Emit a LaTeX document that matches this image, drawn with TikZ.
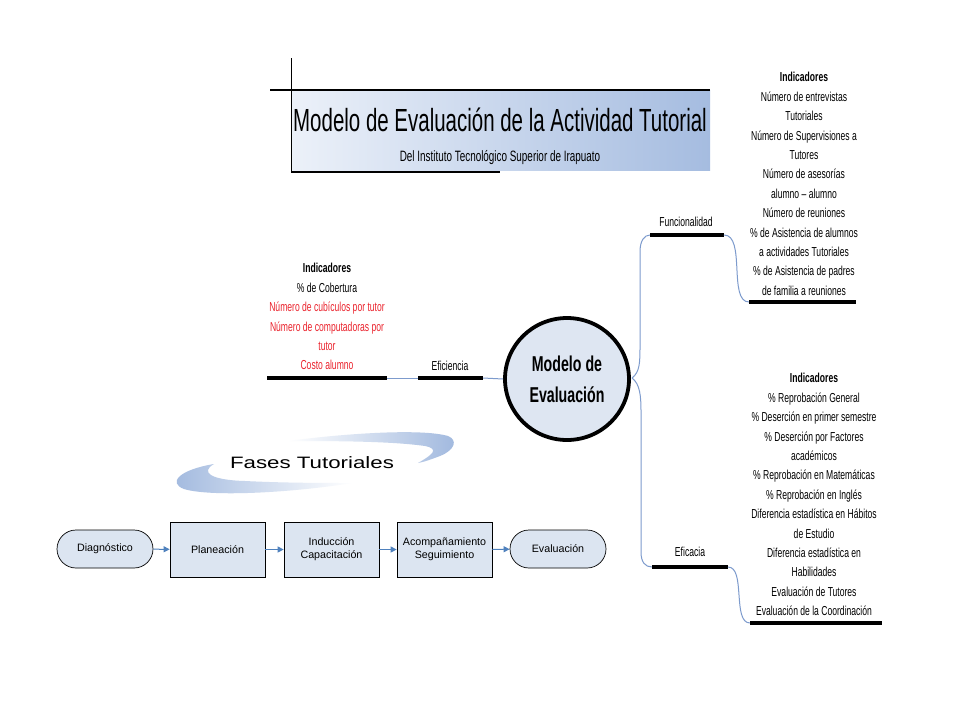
\documentclass[tikz,border=0pt]{standalone}
\usepackage{fontspec}
\setmainfont{Liberation Sans}
\newfontfamily\nar[FakeStretch=0.66]{Liberation Sans}
\newfontfamily\ttlfont[FakeStretch=0.64]{Liberation Sans}
\newfontfamily\widefont[FakeStretch=1.35]{Liberation Sans}
\usetikzlibrary{arrows.meta,shapes.geometric}
\definecolor{linkblue}{RGB}{125,155,205}
\definecolor{arrowblue}{RGB}{79,129,189}
\definecolor{boxfill}{RGB}{220,229,241}
\definecolor{ellfill}{RGB}{222,230,242}
\definecolor{redtxt}{RGB}{235,35,45}
\definecolor{titleL}{RGB}{236,241,249}
\definecolor{titleR}{RGB}{165,188,224}
\definecolor{swoosh}{RGB}{160,184,222}
\tikzset{
  bar/.style={line width=4pt,black},
  link/.style={linkblue,line width=1pt},
  lbl/.style={font=\nar\fontsize{13}{15}\selectfont,inner sep=0pt},
  indic/.style={font=\nar\fontsize{13}{19.4}\selectfont,align=center,inner sep=0pt,anchor=north},
  flowtxt/.style={font=\fontsize{10.7}{13}\selectfont,align=center},
  flowbox/.style={draw=black,line width=0.7pt,fill=boxfill,minimum width=95pt,minimum height=55pt,flowtxt},
  flowend/.style={draw=black,line width=0.7pt,fill=boxfill,minimum width=96pt,minimum height=38pt,rounded corners=19pt,flowtxt},
  flowarr/.style={arrowblue,line width=1pt,-{Triangle[length=6pt,width=6pt]}}
}
\begin{document}
\begin{tikzpicture}[x=1pt,y=-1pt]
\useasboundingbox[fill=white] (0,0) rectangle (960,720);

% ---------- Title block ----------
\shade[left color=titleL,right color=titleR] (291,90) rectangle (710,170);
\draw[line width=1.3pt] (270,90) -- (710,90);
\draw[line width=0.8pt] (291,58) -- (291,172);
\draw[line width=1.3pt] (291,172) -- (500,172);
\node[inner sep=0pt,anchor=base,font=\ttlfont\fontsize{32}{32}\selectfont] (title) at (500,131) {Modelo de Evaluación de la Actividad Tutorial};
\node[inner sep=0pt,anchor=base,font=\nar\fontsize{15}{16}\selectfont] (subtitle) at (500,161) {Del Instituto Tecnológico Superior de Irapuato};

% ---------- Central ellipse ----------
\node[ellipse,draw=black,line width=3.8pt,fill=ellfill,minimum width=124pt,minimum height=122pt,
      align=center,font=\nar\bfseries\fontsize{21.5}{31}\selectfont] (model) at (567,379) {Modelo de\\Evaluación};

% ---------- Eficiencia branch ----------
\coordinate (efiR) at (483,378);
\coordinate (efiL) at (418,378);
\coordinate (indLR) at (387,378);
\coordinate (indLL) at (267,378);
\draw[link] (model.west) -- (efiR);
\draw[bar] (efiL) -- (efiR);
\draw[link] (efiL) -- (indLR);
\draw[bar] (indLL) -- (indLR);
\node[lbl] (eficiencia) at (450,366) {Eficiencia};
\node[indic] (indL) at (327,263.2) {\bfseries Indicadores\\
\% de Cobertura\\
\textcolor{redtxt}{Número de cubículos por tutor}\\
\textcolor{redtxt}{Número de computadoras por}\\
\textcolor{redtxt}{tutor}\\
\textcolor{redtxt}{Costo alumno}};

% ---------- Funcionalidad branch ----------
\coordinate (fork) at (632,378);
\coordinate (funL) at (650,235);
\coordinate (funR) at (724,235);
\coordinate (ind1L) at (749,302);
\coordinate (ind1R) at (856,302);
\draw[link] (fork) .. controls (640,372) and (640,362) .. (640,345) -- (640,252) .. controls (640,241) and (644,235) .. (funL);
\draw[bar] (funL) -- (funR);
\draw[link] (funR) .. controls (746,235) and (728,302) .. (ind1L);
\draw[bar] (ind1L) -- (ind1R);
\node[lbl] (funcionalidad) at (686,222) {Funcionalidad};
\node[indic] (ind1) at (804,72.2) {\bfseries Indicadores\\
Número de entrevistas\\
Tutoriales\\
Número de Supervisiones a\\
Tutores\\
Número de asesorías\\
alumno – alumno\\
Número de reuniones\\
\% de Asistencia de alumnos\\
a actividades Tutoriales\\
\% de Asistencia de padres\\
de familia a reuniones};

% ---------- Eficacia branch ----------
\coordinate (ficL) at (652,567);
\coordinate (ficR) at (728,567);
\coordinate (ind2L) at (750,623);
\coordinate (ind2R) at (882,623);
\draw[link] (fork) .. controls (640,384) and (641,396) .. (641,412) -- (641,552) .. controls (641,562) and (645,567) .. (ficL);
\draw[bar] (ficL) -- (ficR);
\draw[link] (ficR) .. controls (746,567) and (732,623) .. (ind2L);
\draw[bar] (ind2L) -- (ind2R);
\node[lbl] (eficacia) at (690,552) {Eficacia};
\node[indic] (ind2) at (814,373.2) {\bfseries Indicadores\\
\% Reprobación General\\
\% Deserción en primer semestre\\
\% Deserción por Factores\\
académicos\\
\% Reprobación en Matemáticas\\
\% Reprobación en Inglés\\
Diferencia estadística en Hábitos\\
de Estudio\\
Diferencia estadística en\\
Habilidades\\
Evaluación de Tutores\\
Evaluación de la Coordinación};

% ---------- Fases Tutoriales swooshes ----------
\shade[left color=white,right color=swoosh]
  (288,441) .. controls (340,434) and (420,428) .. (448,436)
  .. controls (458,440) and (455,450) .. (440,456)
  .. controls (432,459) and (424,462) .. (418,463)
  .. controls (432,455) and (440,449) .. (425,446)
  .. controls (390,441) and (330,441) .. (288,441) -- cycle;
\shade[left color=swoosh,right color=white]
  (352,483) .. controls (290,493) and (210,497) .. (184,489)
  .. controls (168,483) and (178,470) .. (214,464)
  .. controls (200,472) and (210,480) .. (245,481)
  .. controls (285,483) and (325,483) .. (352,483) -- cycle;
\node[inner sep=0pt,font=\widefont\fontsize{16.5}{18}\selectfont] (fases) at (312,463) {Fases Tutoriales};

% ---------- Flow ----------
\node[flowend] (diag) at (105,549) {Diagnóstico};
\node[flowbox] (plan) at (217.5,549.5) {Planeación};
\node[flowbox] (ind) at (331.5,549.5) {Inducción\\Capacitación};
\node[flowbox] (acomp) at (444.5,549.5) {Acompañamiento\\Seguimiento};
\node[flowend] (eval) at (558,549) {Evaluación};
\draw[flowarr] (diag) -- (plan);
\draw[flowarr] (plan) -- (ind);
\draw[flowarr] (ind) -- (acomp);
\draw[flowarr] (acomp) -- (eval);
\end{tikzpicture}
\end{document}
